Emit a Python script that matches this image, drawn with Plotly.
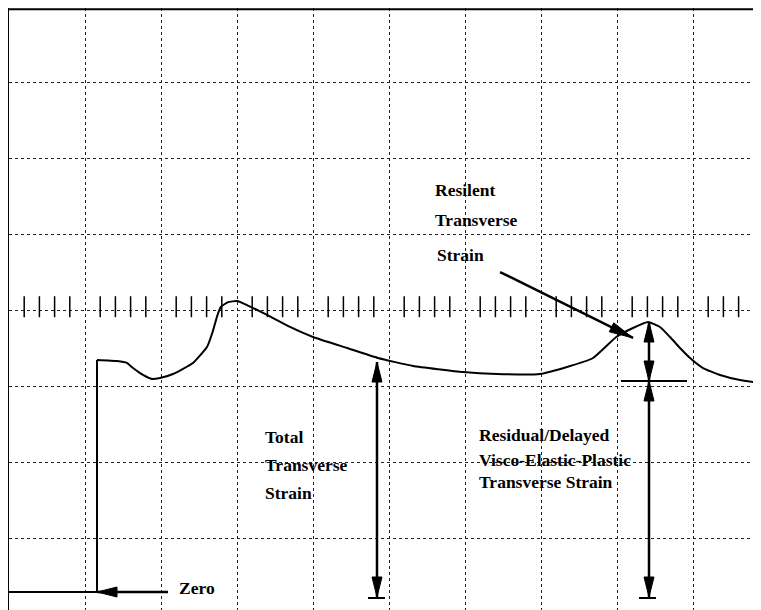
import plotly.graph_objects as go

# ---- data (in screen divisions: x 0..10, y 0..8) ----
step_x = [0.0, 1.158, 1.158]
step_y = [0.29, 0.29, 3.348]

curve_x = [1.158, 1.421, 1.55, 1.632, 1.763, 1.882, 1.987, 2.158, 2.421, 2.605, 2.68, 2.74,
           2.79, 2.882, 3.0, 3.132, 3.395, 3.697, 4.0, 4.447, 4.855, 5.316, 5.974, 6.421,
           6.987, 7.342, 7.684, 7.99, 8.21, 8.408, 8.566, 8.697, 8.829, 8.961, 9.132, 9.355,
           9.618, 9.895]
curve_y = [3.348, 3.334, 3.31, 3.242, 3.15, 3.097, 3.11, 3.163, 3.308, 3.519, 3.72, 3.93,
           4.05, 4.11, 4.125, 4.072, 3.941, 3.783, 3.651, 3.506, 3.374, 3.269, 3.189, 3.163,
           3.163, 3.255, 3.374, 3.651, 3.769, 3.848, 3.783, 3.651, 3.506, 3.374, 3.242, 3.15,
           3.084, 3.045]

# annotation texts: (text, x, y)
labels = [
    ("Zero", 2.211, 0.343),
    ("Total", 3.342, 2.333),
    ("Transverse", 3.342, 1.964),
    ("Strain", 3.342, 1.595),
    ("Residual/Delayed", 6.158, 2.359),
    ("Visco-Elastic-Plastic", 6.158, 2.030),
    ("Transverse Strain", 6.158, 1.740),
    ("Resilent", 5.579, 5.588),
    ("Transverse", 5.579, 5.193),
    ("Strain", 5.605, 4.731),
]

# arrows: (x_tail, y_tail, x_tip, y_tip, double_headed)
arrows = [
    (2.092, 0.29, 1.158, 0.29, False),      # Zero
    (4.842, 3.321, 4.842, 0.224, True),     # Total
    (8.421, 3.071, 8.421, 0.224, True),     # Residual
    (8.421, 3.071, 8.421, 3.848, True),     # Resilient
    (6.461, 4.507, 8.211, 3.638, False),    # diagonal pointer
]
# horizontal bars: (x0, x1, y)
bars = [
    (4.724, 4.947, 0.211),
    (8.289, 8.513, 0.211),
    (8.053, 8.921, 3.071),
]

# ---- geometry (page body has an 8px margin) ----
W, H = 753, 602
ML = 1
PX_X = 76.0
PX_Y = 75.875
XR = [0, (W - ML) / PX_X]
YTOP = 8 - 1 / PX_Y
YR = [YTOP - H / PX_Y, YTOP]

SERIF = "Liberation Serif, Times New Roman, Times, serif"

fig = go.Figure()

fig.add_trace(go.Scatter(x=step_x, y=step_y, mode="lines",
                         line=dict(color="black", width=2), hoverinfo="skip"))
fig.add_trace(go.Scatter(x=curve_x, y=curve_y, mode="lines",
                         line=dict(color="black", width=2, shape="spline", smoothing=0.4),
                         hoverinfo="skip"))

# minor ticks on centre line
minor = [i / 5 for i in range(1, 50) if i % 5 != 0 and i / 5 < XR[1]]
fig.add_trace(go.Scatter(x=minor, y=[4.05] * len(minor), mode="markers",
                         marker=dict(symbol="line-ns", size=15,
                                     line=dict(color="black", width=1.5)),
                         hoverinfo="skip"))

top_y = 1 - 1.2 / H
shapes = [
    # top border of the screen
    dict(type="line", xref="paper", yref="paper", x0=0, x1=1, y0=top_y, y1=top_y,
         line=dict(color="black", width=2), layer="above"),
]


def head(tx, ty, fx, fy, length=18, halfw=4.5):
    dx = (tx - fx) * PX_X
    dy = (ty - fy) * PX_Y
    d = (dx * dx + dy * dy) ** 0.5
    ux, uy = dx / d, dy / d
    nx, ny = -uy, ux
    bx, by = -ux * length, -uy * length
    p1 = (tx + (bx + nx * halfw) / PX_X, ty + (by + ny * halfw) / PX_Y)
    p2 = (tx + (bx - nx * halfw) / PX_X, ty + (by - ny * halfw) / PX_Y)
    return dict(type="path",
                path=f"M {tx},{ty} L {p1[0]},{p1[1]} L {p2[0]},{p2[1]} Z",
                fillcolor="black", line=dict(color="black", width=1), layer="above")


for x0, y0, x1, y1, dbl in arrows:
    shapes.append(dict(type="line", x0=x0, y0=y0, x1=x1, y1=y1,
                       line=dict(color="black", width=2.5), layer="above"))
    L = 24 if not dbl and abs(y1 - y0) > 0.1 and abs(x1 - x0) > 0.1 else 20
    shapes.append(head(x1, y1, x0, y0, length=L, halfw=5))
    if dbl:
        shapes.append(head(x0, y0, x1, y1, length=20, halfw=5))

for x0, x1, y in bars:
    shapes.append(dict(type="line", x0=x0, x1=x1, y0=y, y1=y,
                       line=dict(color="black", width=2), layer="above"))

annotations = [dict(text="<b>" + t + "</b>", x=x, y=y, xanchor="left", yanchor="middle",
                    showarrow=False,
                    font=dict(family=SERIF, size=17.5, color="black"))
               for t, x, y in labels]

axis_common = dict(showgrid=True, gridcolor="#222", griddash="dot", gridwidth=1,
                   showticklabels=False, ticks="", zeroline=False, dtick=1, tick0=0,
                   linecolor="black", linewidth=2, fixedrange=True)

fig.update_layout(
    width=W, height=H, autosize=False,
    margin=dict(l=ML, r=0, t=0, b=0, pad=0),
    paper_bgcolor="white", plot_bgcolor="white",
    showlegend=False,
    font=dict(family=SERIF),
    xaxis=dict(range=XR, showline=False, **axis_common),
    yaxis=dict(range=YR, showline=True, **axis_common),
    shapes=shapes,
    annotations=annotations,
)

fig.write_html("out.html", config=dict(displayModeBar=False),
               post_script="document.documentElement.style.overflow='hidden';"
                           "document.body.style.overflow='hidden';")
